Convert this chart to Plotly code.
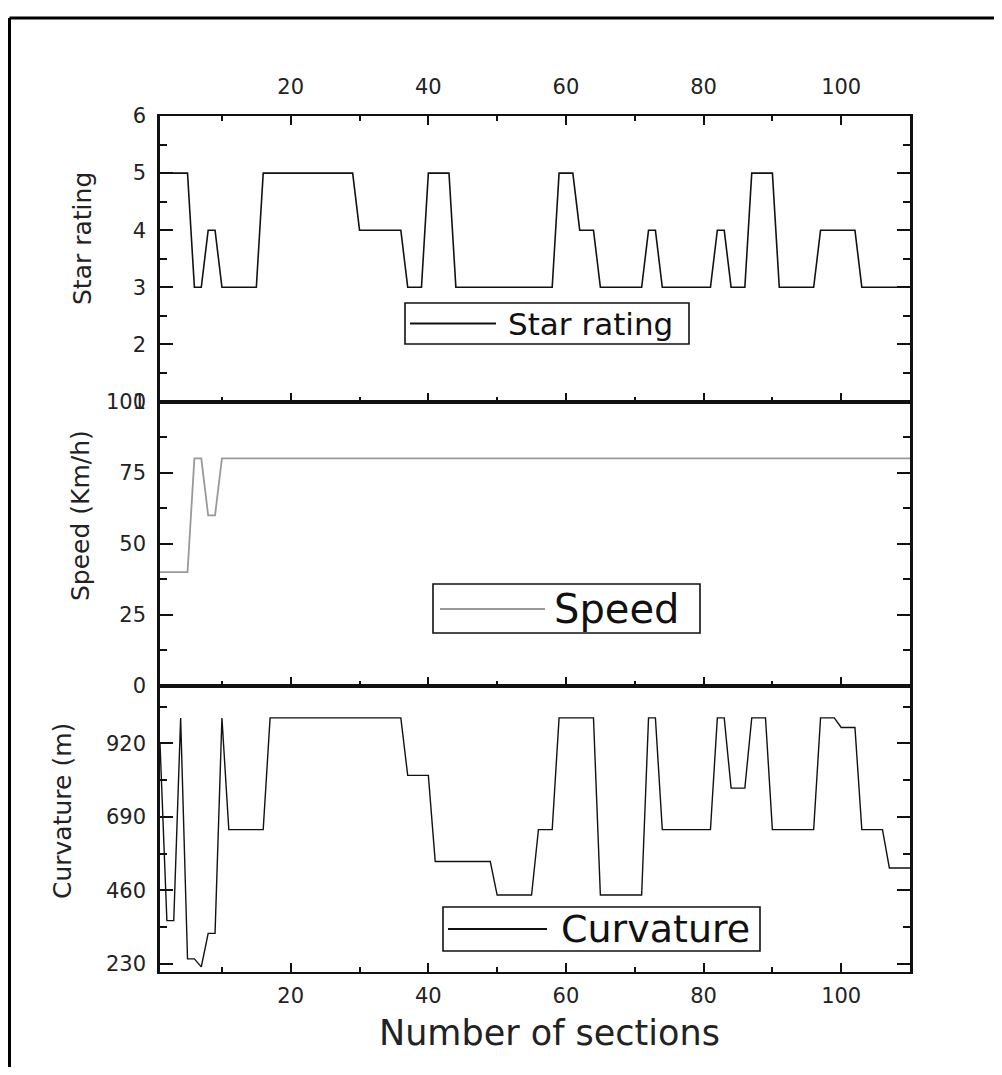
import plotly.graph_objects as go

# ---------------- data ----------------
sections = list(range(1, 111))

star_rating = [5, 5, 5, 5, 5, 3, 3, 4, 4, 3,
               3, 3, 3, 3, 3, 5, 5, 5, 5, 5,
               5, 5, 5, 5, 5, 5, 5, 5, 5, 4,
               4, 4, 4, 4, 4, 4, 3, 3, 3, 5,
               5, 5, 5, 3, 3, 3, 3, 3, 3, 3,
               3, 3, 3, 3, 3, 3, 3, 3, 5, 5,
               5, 4, 4, 4, 3, 3, 3, 3, 3, 3,
               3, 4, 4, 3, 3, 3, 3, 3, 3, 3,
               3, 4, 4, 3, 3, 3, 5, 5, 5, 5,
               3, 3, 3, 3, 3, 3, 4, 4, 4, 4,
               4, 4, 3, 3, 3, 3, 3, 3, 3, 3]

speed = [40, 40, 40, 40, 40, 80, 80, 60, 60, 80,
         80, 80, 80, 80, 80, 80, 80, 80, 80, 80,
         80, 80, 80, 80, 80, 80, 80, 80, 80, 80,
         80, 80, 80, 80, 80, 80, 80, 80, 80, 80,
         80, 80, 80, 80, 80, 80, 80, 80, 80, 80,
         80, 80, 80, 80, 80, 80, 80, 80, 80, 80,
         80, 80, 80, 80, 80, 80, 80, 80, 80, 80,
         80, 80, 80, 80, 80, 80, 80, 80, 80, 80,
         80, 80, 80, 80, 80, 80, 80, 80, 80, 80,
         80, 80, 80, 80, 80, 80, 80, 80, 80, 80,
         80, 80, 80, 80, 80, 80, 80, 80, 80, 80]

curvature = [920, 365, 365, 1000, 245, 245, 220, 325, 325, 1000,
             650, 650, 650, 650, 650, 650, 1000, 1000, 1000, 1000,
             1000, 1000, 1000, 1000, 1000, 1000, 1000, 1000, 1000, 1000,
             1000, 1000, 1000, 1000, 1000, 1000, 820, 820, 820, 820,
             550, 550, 550, 550, 550, 550, 550, 550, 550, 445,
             445, 445, 445, 445, 445, 650, 650, 650, 1000, 1000,
             1000, 1000, 1000, 1000, 445, 445, 445, 445, 445, 445,
             445, 1000, 1000, 650, 650, 650, 650, 650, 650, 650,
             650, 1000, 1000, 780, 780, 780, 1000, 1000, 1000, 650,
             650, 650, 650, 650, 650, 650, 1000, 1000, 1000, 970,
             970, 970, 650, 650, 650, 650, 530, 530, 530, 530]

x_ticks = [20, 40, 60, 80, 100]
star_ticks = [1, 2, 3, 4, 5, 6]
speed_ticks = [0, 25, 50, 75, 100]
curv_ticks = [230, 460, 690, 920]

series_names = ["Star rating", "Speed", "Curvature"]
series_colors = ["#111111", "#999999", "#111111"]

# ---------------- geometry (page pixels; page body has an 8px margin) ----------------
PAGE_OFF = 8
FW, FH = 1002 - 2 * PAGE_OFF, 1075 - 2 * PAGE_OFF
L, R, T, B = 160, 910, 116, 972          # plot area in page pixels
PW, PH = R - L, B - T


def px_x(px):
    return (px - L) / PW


def px_y(py):
    return 1 - (py - T) / PH


FONT = "DejaVu Sans"
INK = "#111111"
TXT = "#222222"

fig = go.Figure()

fig.add_trace(go.Scatter(x=sections, y=star_rating, mode="lines", name=series_names[0],
                         line=dict(color=series_colors[0], width=1.6),
                         xaxis="x3", yaxis="y3", showlegend=False))
fig.add_trace(go.Scatter(x=sections, y=speed, mode="lines", name=series_names[1],
                         line=dict(color=series_colors[1], width=1.8),
                         xaxis="x2", yaxis="y2", showlegend=False))
fig.add_trace(go.Scatter(x=sections, y=curvature, mode="lines", name=series_names[2],
                         line=dict(color=series_colors[2], width=1.4),
                         xaxis="x", yaxis="y", showlegend=False))

b1 = px_y(686)
b2 = px_y(401.5)

xcommon = dict(range=[1, 110], showline=True, linecolor=INK, linewidth=2,
               ticks="inside", ticklen=9, tickwidth=2, tickcolor=INK,
               tickvals=x_ticks, showgrid=False, zeroline=False,
               tickfont=dict(family=FONT, size=21, color=TXT),
               minor=dict(ticks="inside", ticklen=5, tickwidth=2, tickcolor=INK, dtick=10, tick0=0))

ycommon = dict(showline=True, linecolor=INK, linewidth=2.5,
               ticks="inside", ticklen=13, tickwidth=2, tickcolor=INK,
               showgrid=False, zeroline=False, mirror="allticks",
               tickfont=dict(family=FONT, size=21, color=TXT),
               ticklabelstandoff=7)

fig.update_layout(
    width=FW, height=FH,
    margin=dict(l=L - PAGE_OFF, r=PAGE_OFF + FW - R, t=T - PAGE_OFF, b=PAGE_OFF + FH - B),
    paper_bgcolor="white", plot_bgcolor="white",
    font=dict(family=FONT, color=INK),
    showlegend=False,
    xaxis=dict(**xcommon, anchor="y", side="bottom", mirror=True, showticklabels=True,
               ticklabelstandoff=4),
    xaxis2=dict(**xcommon, anchor="y2", side="bottom", mirror=True, matches="x",
                showticklabels=False),
    xaxis3=dict(**xcommon, anchor="y3", side="top", mirror="allticks", matches="x",
                showticklabels=True, ticklabelstandoff=12),
    yaxis=dict(**ycommon, domain=[0, b1], anchor="x", range=[204, 1100],
               tickvals=curv_ticks,
               minor=dict(ticks="inside", ticklen=7, tickwidth=2, tickcolor=INK, dtick=115, tick0=0)),
    yaxis2=dict(**ycommon, domain=[b1, b2], anchor="x2", range=[0, 100],
                tickvals=speed_ticks,
                minor=dict(ticks="inside", ticklen=7, tickwidth=2, tickcolor=INK, dtick=12.5, tick0=0)),
    yaxis3=dict(**ycommon, domain=[b2, 1], anchor="x3", range=[1, 6],
                tickvals=star_ticks,
                minor=dict(ticks="inside", ticklen=7, tickwidth=2, tickcolor=INK, dtick=0.5, tick0=0)),
)

# axis titles
for txt, cx, cy in [("Star rating", 82, 239), ("Speed (Km/h)", 80, 516), ("Curvature (m)", 62, 811)]:
    fig.add_annotation(text=txt, x=px_x(cx), y=px_y(cy), xref="paper", yref="paper",
                       xanchor="center", yanchor="middle", textangle=-90, showarrow=False,
                       font=dict(family=FONT, size=25, color=TXT))
fig.add_annotation(text="Number of sections", x=px_x(549), y=px_y(1033), xref="paper", yref="paper",
                   xanchor="center", yanchor="middle", showarrow=False,
                   font=dict(family=FONT, size=35, color=TXT))

# legend boxes (box left, top, right, bottom; line x0, x1, y; text x; font size)
legend_boxes = [
    (405, 303, 689, 344, 410, 496, 323.5, 506, 31),
    (433, 584, 700, 633, 440, 545, 609, 552, 40),
    (443, 907, 760, 951, 448, 547, 929, 559, 38),
]
for i, (bx0, by0, bx1, by1, lx0, lx1, ly, tx, fs) in enumerate(legend_boxes):
    fig.add_shape(type="rect", xref="paper", yref="paper",
                  x0=px_x(bx0), x1=px_x(bx1), y0=px_y(by0), y1=px_y(by1),
                  line=dict(color=INK, width=1.6), fillcolor="white", layer="above")
    fig.add_shape(type="line", xref="paper", yref="paper",
                  x0=px_x(lx0), x1=px_x(lx1), y0=px_y(ly), y1=px_y(ly),
                  line=dict(color=series_colors[i], width=1.8), layer="above")
    fig.add_annotation(text=series_names[i], x=px_x(tx), y=px_y(ly), xref="paper", yref="paper",
                       xanchor="left", yanchor="middle", showarrow=False,
                       font=dict(family=FONT, size=fs, color=INK))

# outer frame (top and left edges of the original figure)
fig.add_shape(type="line", xref="paper", yref="paper", x0=px_x(9.5), x1=px_x(1010),
              y0=px_y(18), y1=px_y(18), line=dict(color="black", width=3))
fig.add_shape(type="line", xref="paper", yref="paper", x0=px_x(9.5), x1=px_x(9.5),
              y0=px_y(18), y1=px_y(1080), line=dict(color="black", width=3))

fig.write_html("out.html")
